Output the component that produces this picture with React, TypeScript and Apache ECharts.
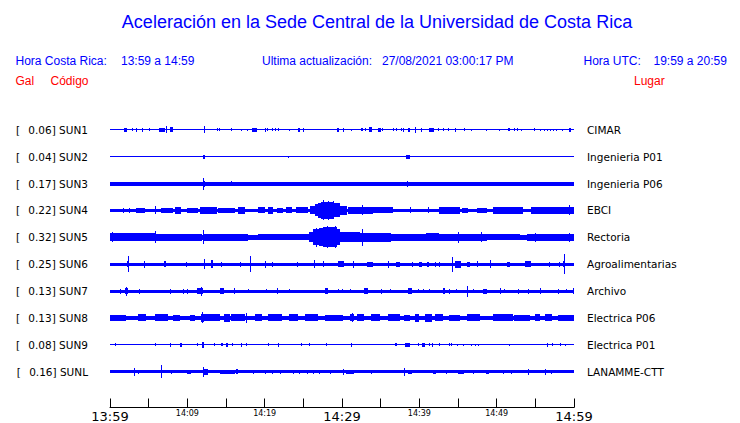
import React, { useEffect, useRef } from "react";
import * as echarts from "echarts";

// ---- data ----
const STATIONS = ["SUN1", "SUN2", "SUN3", "SUN4", "SUN5", "SUN6", "SUN7", "SUN8", "SUN9", "SUNL"];
const PLACES = ["CIMAR", "Ingenieria P01", "Ingenieria P06", "EBCI", "Rectoria", "Agroalimentarias", "Archivo", "Electrica P06", "Electrica P01", "LANAMME-CTT"];
const PEAK_GAL = ["0.06", "0.04", "0.17", "0.22", "0.32", "0.25", "0.13", "0.13", "0.08", "0.16"];

// trace base half-amplitude (trace units)
const BASE = [0.6, 0.6, 2.0, 1.7, 2.3, 1.7, 1.7, 2.2, 0.6, 1.5];

// bursts: [startMinute, endMinute, halfAmplitude] (start==end => single spike)
const SUN1: number[][] = [[1.8,2.2,2],[2.8,2.8,1.5],[3.4,3.4,2],[4.2,4.2,2],[5.0,5.0,1.5],[6.4,7.1,2],[7.3,7.3,3.5],[7.7,8.1,2.5],[12.1,12.1,3.5],[13.8,13.8,1.5],[14.1,14.1,1.5],[15.7,15.7,1.5],[16.9,16.9,1],[17.7,17.7,1],[18.3,19.0,2],[20.0,20.0,2],[20.3,20.3,1.5],[21.0,21.0,1.5],[21.4,21.4,1.5],[21.7,21.7,1.5],[23.1,23.1,1],[24.3,24.6,2],[25.0,25.0,2],[29.3,29.6,2],[30.1,30.1,2],[31.2,31.2,1],[32.4,32.4,1.5],[32.6,32.6,1.5],[33.0,33.0,1.5],[33.5,33.9,2.5],[34.7,35.0,2],[35.2,35.2,1.5],[36.6,36.6,1.5],[37.0,37.0,1.5],[37.6,37.6,1.5],[37.9,37.9,2],[38.5,38.8,2],[39.4,39.4,3],[40.2,40.4,2],[41.3,41.9,2],[42.4,42.4,1.5],[43.0,43.0,1.5],[43.7,43.7,1.5],[44.6,44.8,2],[45.8,45.8,1.5],[46.7,46.7,1],[48.6,48.6,1],[50.3,50.3,1],[51.5,51.7,1.5],[52.2,52.2,1.5],[52.6,52.6,1.5],[53.2,53.2,1],[54.8,54.8,1.5],[55.6,55.6,1],[56.1,56.1,1],[56.5,56.5,1],[56.9,56.9,1],[57.3,57.3,1],[57.7,57.7,1],[58.5,58.5,1],[59.4,59.6,2]];
const SUN2: number[][] = [[12.0,12.3,2],[23.0,23.1,1.2],[38.3,38.8,2]];
const SUN3: number[][] = [[12.0,12.0,6],[12.1,12.3,3],[15.7,15.7,2.5],[38.4,38.4,3]];
const SUN4: number[][] = [[1.7,1.7,2.5],[2.5,2.5,2.5],[3.4,4.5,2.5],[5.8,5.8,4],[6.6,8.1,2.5],[8.4,9.2,3.5],[9.9,11.4,2.5],[11.6,13.8,3.5],[14.0,16.1,2.5],[16.5,17.4,3.5],[19.1,20.0,3],[20.4,21.1,3.5],[21.6,22.4,2.5],[22.8,23.5,3],[24.1,25.6,3],[25.8,26.5,4],[26.5,26.9,6],[26.9,27.3,7.5],[27.3,29.0,8.5],[27.5,27.5,10],[28.2,28.2,9.5],[28.8,28.8,9],[29.0,29.7,7],[29.7,30.7,4.5],[30.8,34.0,3.5],[32.6,32.6,5],[34.0,36.6,3],[38.8,38.8,3],[41.1,41.1,3],[42.6,45.2,3.5],[45.5,46.3,2.5],[47.4,48.7,2.5],[49.5,53.4,3.5],[54.5,60,3.5],[59.4,59.4,5]];
const SUN5: number[][] = [[0,5.8,3.8],[0.2,0.2,5],[5.8,5.8,6],[5.8,11.9,3.5],[12.0,12.0,7],[12.2,17.8,3.5],[19.1,25.7,3],[25.7,26.3,5],[26.3,27.0,8],[26.7,26.7,9.5],[27.0,27.5,9],[27.5,29.3,10],[28.0,28.0,11],[29.1,29.1,11],[29.3,29.8,8],[29.8,32.3,5],[32.6,32.6,8.5],[32.3,36.4,4.5],[36.4,40.9,3.5],[40.9,42.6,4],[42.6,48.7,3.5],[45.0,45.0,5.5],[48.0,48.0,5],[48.7,53.0,2.8],[53.9,60,3.5],[55.0,55.0,4.5],[59.4,59.4,4.5]];
const SUN6: number[][] = [[2.3,2.3,8],[2.2,2.5,3],[4.4,4.4,3.5],[7.0,7.2,3],[9.8,9.8,2.5],[12.1,12.1,5],[13.1,13.3,4],[14.3,14.5,2.5],[16.8,17.0,2.5],[18.1,18.1,8],[20.0,20.2,3.5],[20.9,20.9,2.5],[24.2,24.2,2.5],[26.4,26.4,4],[27.5,27.5,3],[29.5,30.3,3],[31.4,31.4,3.5],[33.2,34.0,2.5],[36.0,36.0,3.5],[37.0,37.5,2.5],[39.0,39.0,2.5],[40.0,40.3,2.5],[41.0,41.3,2.5],[42.0,42.2,2.5],[42.6,42.6,2.5],[44.2,44.2,7.5],[44.6,45.4,3.5],[46.1,46.5,2.5],[47.4,47.4,3],[49.1,49.3,4],[51.3,51.7,2.5],[53.6,54.5,3],[56.8,56.8,2.5],[58.1,58.1,2.5],[58.7,58.7,10],[58.6,58.9,3]];
const SUN7: number[][] = [[1.25,1.25,2.5],[1.9,2.3,3],[2.1,2.1,4.3],[3.75,3.75,2.5],[7.7,7.7,2.5],[9.4,9.4,2.5],[10.0,10.0,2.5],[11.3,12.0,3],[11.8,11.8,4.5],[14.2,14.8,3],[16.0,16.0,3],[17.8,17.8,2],[20.2,20.2,2],[21.6,21.6,3],[23.2,23.2,2],[27.8,28.2,3],[29.5,29.5,2],[30.0,30.0,2],[31.0,31.0,2],[32.9,33.4,3],[35.1,35.1,2.5],[36.2,36.2,2],[38.5,39.1,3],[39.8,39.8,2],[40.5,40.5,2],[41.3,41.3,2],[43.1,43.3,3],[43.9,43.9,2.5],[44.8,44.8,2],[46.1,46.1,5.3],[46.9,46.9,2],[48.2,48.7,2.5],[50.4,50.6,3],[51.0,51.0,2],[52.8,52.8,2.5],[54.1,54.1,2.5],[55.6,55.6,3],[57.9,57.9,2.5],[59.0,59.0,2],[59.9,59.9,3]];
const SUN8: number[][] = [[0,2.1,3],[3.6,4.7,3.5],[5.8,7.5,3.5],[8.1,9.0,3],[10.3,11.0,3],[11.9,11.9,5.5],[11.8,12.2,4],[12.2,14.2,3.5],[14.8,15.5,4],[15.7,17.4,3.5],[17.6,17.6,5],[18.7,19.6,3.5],[20.4,22.3,3.5],[23.2,24.3,3.5],[25.2,26.9,3.5],[27.8,30.1,3],[31.0,31.6,3.5],[31.3,31.3,4.5],[32.0,32.8,3.5],[33.8,34.9,3.5],[35.9,37.5,3.5],[38.0,38.8,3],[39.5,40.0,4],[40.7,41.6,4],[42.0,43.1,3.5],[43.9,45.2,3],[46.1,47.8,3.5],[49.5,52.1,3.5],[52.3,54.3,3],[55.0,55.6,3.5],[56.2,57.2,3.5],[57.9,60,3]];
const SUN9: number[][] = [[0.7,0.7,1.5],[5.8,5.8,1.5],[7.8,7.8,2],[9.1,9.3,2],[11.3,11.3,1.5],[11.9,12.1,3],[13.5,13.5,1.5],[14.4,14.6,1.5],[15.0,15.3,2],[15.8,15.8,1.5],[16.9,16.9,2],[17.6,17.6,1.5],[20.4,20.4,1.5],[21.7,21.7,2],[24.7,24.7,1.5],[25.7,25.7,1.5],[27.9,27.9,1.5],[31.2,31.2,2],[36.8,37.1,1.5],[38.1,38.8,2],[39.8,39.8,1.5],[40.3,40.7,2],[41.3,41.3,1.5],[41.6,41.6,2],[42.6,42.6,1.5],[43.8,43.8,1.5],[44.1,44.1,1.5],[44.9,44.9,1],[45.7,45.7,1],[46.7,46.7,1],[47.2,47.2,1],[47.6,47.6,1],[51.6,51.6,1],[56.5,56.5,2],[57.1,57.1,1.5],[58.2,58.2,1.5],[58.9,58.9,1]];
const SUNL: number[][] = [[3.1,3.1,4],[3.6,3.6,2],[6.6,6.6,6.7],[7.9,7.9,2],[9.9,10.5,2],[12.0,12.0,5],[12.2,12.7,3],[14.2,16.1,2],[16.3,16.6,2.5],[18.5,18.5,2],[20.0,20.0,2],[21.0,21.0,2],[22.0,22.0,2],[23.7,23.7,2],[24.5,24.5,2],[25.5,25.5,2],[26.2,26.2,2],[27.0,27.0,2],[28.5,28.5,2],[30.1,30.3,3],[30.5,31.5,2],[33.8,33.8,2],[38.0,38.0,4],[38.5,39.0,2],[41.8,42.2,2],[43.5,43.5,2],[45.0,45.8,2],[47.0,47.0,2],[48.6,49.0,2],[50.8,50.8,2],[51.9,51.9,2],[54.0,54.0,3],[56.2,56.2,3],[57.0,57.0,2]];
const BURSTS = [SUN1, SUN2, SUN3, SUN4, SUN5, SUN6, SUN7, SUN8, SUN9, SUNL];

const START_TIME = "13:59";
const WINDOW_MIN = 60;
const MAJOR_LABELS = ["13:59", "14:29", "14:59"];
const MINOR_LABELS = ["14:09", "14:19", "14:39", "14:49"];

const TITLE = "Aceleración en la Sede Central de la Universidad de Costa Rica";
const LOCAL_RANGE = "13:59 a 14:59";
const UTC_RANGE = "19:59 a 20:59";
const UPDATED = "27/08/2021 03:00:17 PM";

// ---- helpers ----
const BLUE = "#0000ff";
const AMP_PER_ROW = 27; // trace units per row spacing

function fmtTime(offset: number): string {
  const [h, m] = START_TIME.split(":").map(Number);
  const t = h * 60 + m + offset;
  const hh = Math.floor(t / 60) % 24;
  const mm = t % 60;
  return `${String(hh).padStart(2, "0")}:${String(mm).padStart(2, "0")}`;
}

export default function App() {
  const ref = useRef<HTMLDivElement>(null);
  useEffect(() => {
    if (!ref.current) return;
    const chart = echarts.init(ref.current, null, { renderer: "svg" });

    const data: number[][] = [];
    STATIONS.forEach((_, i) => {
      data.push([0, WINDOW_MIN, i, BASE[i]]);
      BURSTS[i].forEach((b) => data.push([b[0], b[1], i, b[2]]));
    });

    const renderItem = (params: any, api: any) => {
      const t0 = api.value(0);
      const t1 = api.value(1);
      const s = api.value(2);
      const a = api.value(3);
      const c0 = api.coord([t0, s]);
      const c1 = api.coord([t1, s]);
      const band = api.size([0, 1])[1];
      const h = Math.max(Math.round((a / AMP_PER_ROW) * band * 2), 1);
      const x0 = Math.round(c0[0]);
      const w = Math.max(Math.round(c1[0]) - x0, 1);
      const y = Math.round(c0[1] - h / 2);
      return {
        type: "rect",
        shape: { x: x0, y, width: w, height: h },
        style: { fill: BLUE },
      };
    };

    const txt = (x: number, y: number, text: string, fill: string, size: number, align = "left") => ({
      type: "text",
      x,
      y,
      style: {
        text,
        fill,
        fontSize: size,
        fontFamily: "Liberation Sans",
        textAlign: align,
        textVerticalAlign: "middle",
      },
    });

    const labelFont = "DejaVu Sans";

    chart.setOption({
      animation: false,
      backgroundColor: "#ffffff",
      grid: { left: 110, right: 166, top: 116.5, height: 270, containLabel: false },
      xAxis: {
        type: "value",
        min: 0,
        max: WINDOW_MIN,
        interval: 5,
        offset: 22.5,
        axisLine: { show: true, lineStyle: { color: "#000", width: 1 } },
        axisTick: { show: true, inside: true, length: 9, lineStyle: { color: "#000", width: 1 } },
        splitLine: { show: false },
        axisLabel: {
          margin: 1,
          showMinLabel: true,
          showMaxLabel: true,
          formatter: (v: number) => {
            const s = fmtTime(v);
            if (MAJOR_LABELS.includes(s)) return `{big|${s}}`;
            if (MINOR_LABELS.includes(s)) return `{small|${s}}`;
            return "";
          },
          rich: {
            big: { fontSize: 13, fontFamily: labelFont, color: "#000", lineHeight: 16 },
            small: { fontSize: 8, fontFamily: labelFont, color: "#000", lineHeight: 10 },
          },
        },
      },
      yAxis: [
        {
          type: "category",
          data: STATIONS,
          inverse: true,
          axisLine: { show: false },
          axisTick: { show: false },
          splitLine: { show: false },
          axisLabel: {
            margin: 22,
            formatter: (value: string, index: number) => `{b|[}{v|${PEAK_GAL[index]}] ${value}}`,
            rich: {
              b: { width: 12.3, align: "left", fontSize: 10.5, fontFamily: labelFont, color: "#000" },
              v: { fontSize: 10.5, fontFamily: labelFont, color: "#000" },
            },
          },
        },
        {
          type: "category",
          data: PLACES,
          inverse: true,
          position: "right",
          axisLine: { show: false },
          axisTick: { show: false },
          splitLine: { show: false },
          axisLabel: {
            margin: 13,
            fontSize: 10.5,
            fontFamily: labelFont,
            color: "#000",
          },
        },
      ],
      series: [
        {
          type: "custom",
          xAxisIndex: 0,
          yAxisIndex: 0,
          renderItem,
          encode: { x: [0, 1], y: 2 },
          data,
          silent: true,
        },
      ],
      graphic: [
        txt(377, 22, TITLE, BLUE, 18, "center"),
        txt(15.5, 60.5, "Hora Costa Rica:", BLUE, 12),
        txt(121, 60.5, LOCAL_RANGE, BLUE, 12),
        txt(262, 60.5, "Ultima actualización:", BLUE, 12),
        txt(382, 60.5, UPDATED, BLUE, 12),
        txt(583.5, 60.5, "Hora UTC:", BLUE, 12),
        txt(653.5, 60.5, UTC_RANGE, BLUE, 12),
        txt(15.5, 80.5, "Gal", "#ff0000", 12),
        txt(50.5, 80.5, "Código", "#ff0000", 12),
        txt(634, 80.5, "Lugar", "#ff0000", 12),
      ],
    });
    return () => chart.dispose();
  }, []);
  return (
    <div
      ref={ref}
      style={{ position: "fixed", left: 0, top: 0, width: 740, height: 423, background: "#fff" }}
    />
  );
}
